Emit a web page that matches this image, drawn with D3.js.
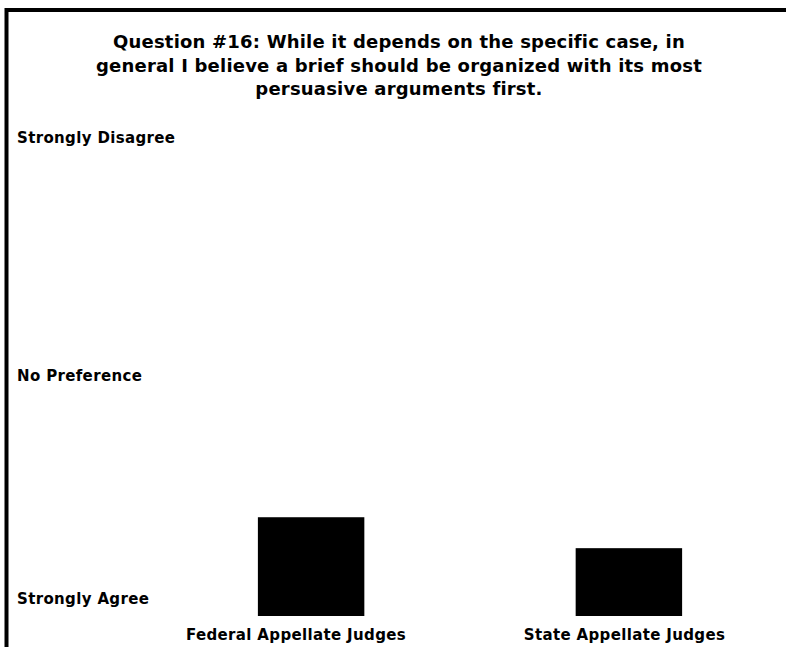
<!DOCTYPE html>
<html>
<head>
<meta charset="utf-8">
<script src="https://cdn.jsdelivr.net/npm/d3@7"></script>
<style>
  html, body { margin: 0; padding: 0; background: #fff; }
  svg { display: block; }
  text { font-family: "DejaVu Sans", Verdana, sans-serif; font-weight: bold; fill: #000; }
</style>
</head>
<body>
<svg id="chart" width="786" height="647"></svg>
<script>
const titleLines = [
  "Question #16: While it depends on the specific case, in",
  "general I believe a brief should be organized with its most",
  "persuasive arguments first."
];
const categories = ["Federal Appellate Judges", "State Appellate Judges"];
const values = [1.83, 1.57];
const tickValues = [5, 3, 1];
const tickLabels = ["Strongly Disagree", "No Preference", "Strongly Agree"];

const W = 786, H = 647;
const svg = d3.select("#chart");

// frame (extends past right/bottom edges)
svg.append("rect")
  .attr("x", 6.5).attr("y", 10)
  .attr("width", W + 20).attr("height", H + 20)
  .attr("fill", "none").attr("stroke", "#000").attr("stroke-width", 4);

// title
const title = svg.append("text")
  .attr("text-anchor", "middle")
  .style("font-size", "18px")
  .style("letter-spacing", "0.2px");
titleLines.forEach((l, i) => {
  title.append("tspan").attr("x", 399).attr("y", 48 + i * 23.5).text(l);
});

const plotTop = 140, plotBottom = 616;
const y = d3.scaleLinear().domain([1, 5]).range([plotBottom, plotTop]);
const x = d3.scaleBand().domain(categories).range([99, 841]).paddingInner(0.665).paddingOuter(0.5);
const xl = d3.scalePoint().domain(categories).range([296, 624.5]);

// y tick labels
svg.selectAll(".ylab").data(tickValues).enter().append("text")
  .attr("class", "ylab")
  .attr("x", 17)
  .attr("y", (d) => Math.min(y(d) + 3, plotBottom - 12))
  .style("font-size", "15px")
  .style("letter-spacing", "0.35px")
  .text((d, i) => tickLabels[i]);

// bars
svg.selectAll(".bar").data(values).enter().append("rect")
  .attr("class", "bar")
  .attr("x", (d, i) => x(categories[i]))
  .attr("width", x.bandwidth())
  .attr("y", (d) => y(d))
  .attr("height", (d) => y(1) - y(d))
  .attr("fill", "#000");

// category labels
svg.selectAll(".xlab").data(categories).enter().append("text")
  .attr("class", "xlab")
  .attr("text-anchor", "middle")
  .attr("x", (d) => xl(d))
  .attr("y", 640)
  .style("font-size", "15px")
  .style("letter-spacing", "0.35px")
  .text((d) => d);
</script>
</body>
</html>
